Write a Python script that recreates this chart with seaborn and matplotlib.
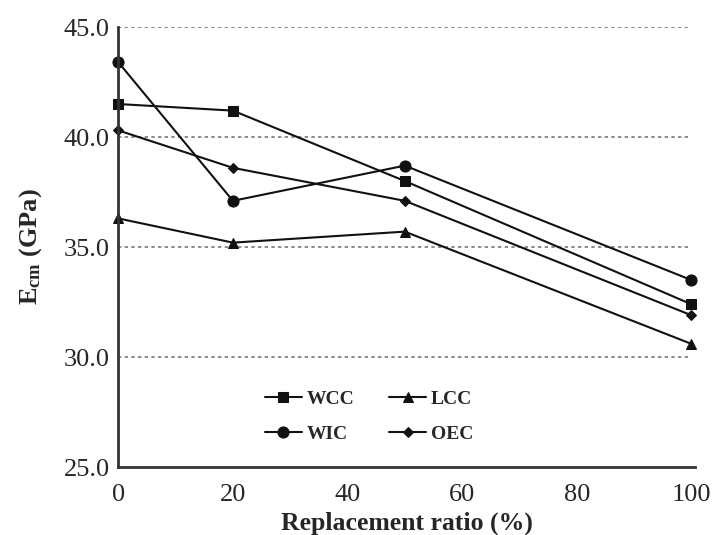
import matplotlib
matplotlib.use('Agg')

import pandas as pd
import matplotlib.pyplot as plt
import seaborn as sns

# Data
ratio = [0, 20, 50, 100]
wcc = [41.5, 41.2, 38.0, 32.4]
wic = [43.4, 37.1, 38.7, 33.5]
lcc = [36.3, 35.2, 35.7, 30.6]
oec = [40.3, 38.6, 37.1, 31.9]

series = ['WCC', 'WIC', 'LCC', 'OEC']
values = [wcc, wic, lcc, oec]
marker_map = {'WCC': 's', 'WIC': 'o', 'LCC': '^', 'OEC': 'D'}
size_map = {'WCC': 7, 'WIC': 8, 'LCC': 7, 'OEC': 5}

df = pd.DataFrame({
    'Replacement ratio': ratio * len(series),
    'Ecm': [v for vals in values for v in vals],
    'Series': [s for s in series for _ in ratio],
})

sns.set_style('white')
plt.rcParams['font.family'] = ['Liberation Serif', 'DejaVu Serif']
plt.rcParams['mathtext.fontset'] = 'custom'
plt.rcParams['mathtext.rm'] = 'Liberation Serif'
plt.rcParams['mathtext.bf'] = 'Liberation Serif:bold'

fig, ax = plt.subplots(figsize=(7.17, 5.35), dpi=100)
fig.subplots_adjust(left=0.165, right=0.969, bottom=0.127, top=0.9495)

# dotted horizontal grid
for yv in [30, 35, 40, 45]:
    ax.axhline(yv, xmin=0, xmax=100 / 100.6, color='#777777', linestyle=(0, (2, 2)),
               linewidth=1.2, zorder=0)

handles = {}
for s in series:
    sub = df[df['Series'] == s]
    sns.lineplot(data=sub, x='Replacement ratio', y='Ecm', ax=ax, color='#111111',
                 marker=marker_map[s], markersize=size_map[s], markeredgecolor='#111111',
                 linewidth=1.5, label=s, legend=False, clip_on=False)
    handles[s] = ax.lines[-1]

ax.set_xlim(0, 100.6)
ax.set_ylim(25, 45)
ax.set_xticks([0, 20, 40, 60, 80, 100])
ax.set_yticks([25, 30, 35, 40, 45])
ax.set_yticklabels(['25.0', '30.0', '35.0', '40.0', '45.0'])
ax.tick_params(axis='x', length=0, labelsize=19, pad=12)
ax.tick_params(axis='y', length=0, labelsize=19, pad=6)

for side in ['top', 'right']:
    ax.spines[side].set_visible(False)
for side in ['left', 'bottom']:
    ax.spines[side].set_color('#333333')
    ax.spines[side].set_linewidth(2)

ax.set_xlabel('Replacement ratio (%)', fontsize=18.5, fontweight='bold', labelpad=4)
ax.set_ylabel(r'$\mathbf{E_{cm}}$ (GPa)', fontsize=19, fontweight='bold', labelpad=14)

order = ['WCC', 'WIC', 'LCC', 'OEC']
ax.legend([handles[s] for s in order], order, ncol=2, frameon=False,
          loc='center', bbox_to_anchor=(0.435, 0.115),
          prop={'weight': 'bold', 'size': 14}, handlelength=1.9,
          columnspacing=1.8, handletextpad=0.25, labelspacing=0.9)

plt.savefig('out.png', dpi=100)
